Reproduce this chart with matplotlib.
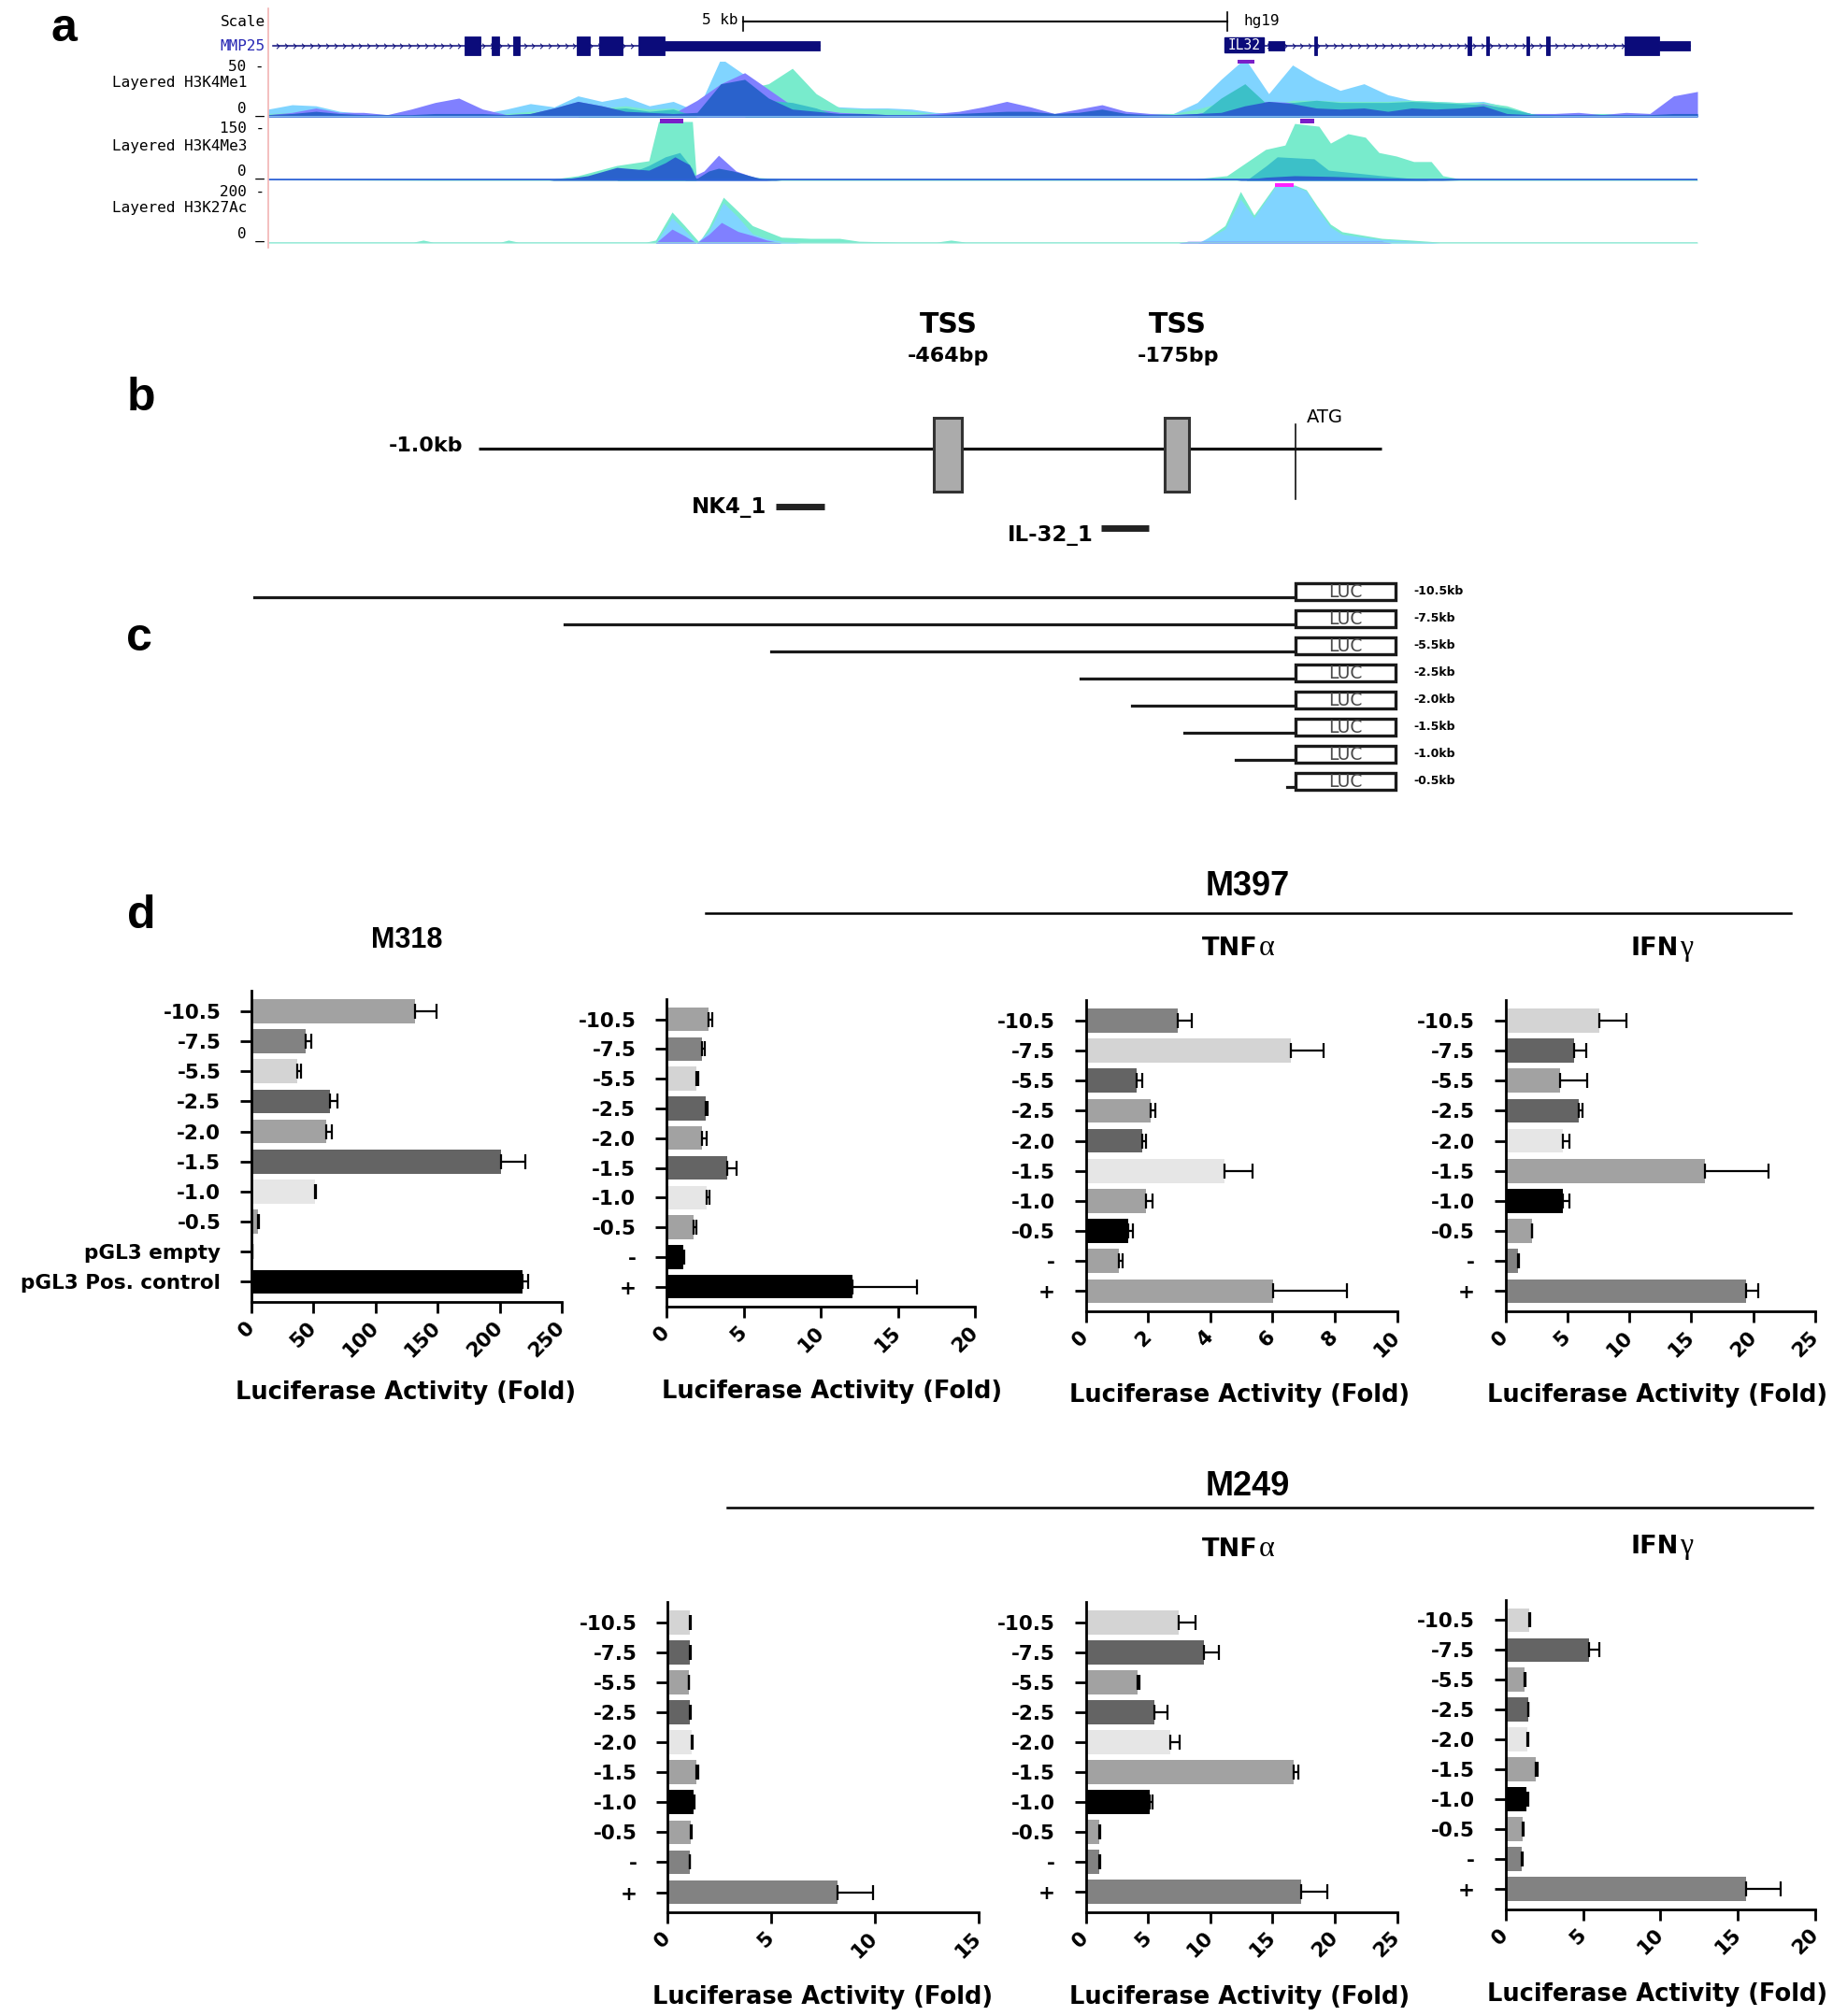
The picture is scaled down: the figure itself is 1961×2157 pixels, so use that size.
import numpy as np
import matplotlib
matplotlib.use('Agg')
import matplotlib.pyplot as plt
from matplotlib.patches import Rectangle
from matplotlib.lines import Line2D
from matplotlib.path import Path
from matplotlib import transforms

plt.rcParams['font.family'] = 'DejaVu Sans'

W, H = 1961, 2157
fig = plt.figure(figsize=(W / 100, H / 100), dpi=100)

# ---------------- panel a data (UCSC browser view, positions in kb) ----------------
REGION_KB = 14.76
grid61 = np.linspace(0, REGION_KB, 61)

# H3K4Me1 layers on the 61-point grid
t1_lightblue = [7, 11, 10, 5, 3, 2, 3, 3, 3, 3, 7, 12, 9, 19, 14, 18, 10, 14, 5, 53,
                38, 25, 17, 11, 9, 8, 8, 7, 4, 3, 4, 4, 4, 3, 3, 3, 3, 3, 3, 13,
                34, 53, 21, 47, 34, 24, 30, 20, 15, 14, 13, 14, 9, 2, 2, 2, 2, 2, 2, 2, 2]
t1_aqua = [3, 4, 4, 3, 2, 2, 2, 2, 2, 2, 3, 5, 5, 7, 8, 10, 7, 8, 3, 17,
           25, 30, 44, 21, 8, 7, 7, 5, 3, 3, 3, 3, 3, 3, 3, 3, 3, 3, 3, 7,
           13, 21, 10, 15, 15, 14, 14, 14, 15, 14, 13, 13, 10, 3, 3, 3, 3, 3, 3, 3, 3]
t1_purple = [2, 4, 8, 4, 4, 2, 7, 13, 17, 7, 2, 3, 8, 14, 10, 5, 4, 3, 15, 30,
             40, 25, 10, 7, 4, 3, 2, 2, 3, 5, 9, 14, 9, 3, 7, 11, 5, 3, 2, 3,
             7, 13, 14, 13, 10, 8, 10, 7, 13, 10, 10, 12, 7, 3, 3, 4, 2, 4, 3, 19, 23]
t1_teal = [0, 0, 0, 0, 0, 0, 0, 0, 0, 0, 0, 0, 0, 0, 7, 8, 5, 7, 0, 0,
           0, 15, 13, 8, 0, 0, 0, 0, 0, 0, 0, 0, 0, 0, 0, 0, 0, 0, 0, 0,
           17, 30, 10, 13, 15, 13, 13, 13, 14, 13, 12, 11, 8, 3, 0, 0, 0, 0, 0, 0, 0]
t1_dark = [2, 3, 5, 3, 2, 2, 2, 3, 3, 3, 2, 3, 8, 14, 10, 5, 4, 3, 4, 30,
           34, 17, 7, 5, 3, 3, 2, 2, 2, 3, 4, 5, 5, 3, 4, 7, 3, 2, 2, 3,
           4, 10, 14, 12, 8, 7, 8, 5, 8, 7, 8, 10, 3, 2, 2, 2, 2, 2, 2, 3, 3]

# H3K4Me3 layers
t2_aqua_x = [0, 2.90, 3.20, 3.60, 3.93, 4.03, 4.38, 4.42, 4.60, 4.75, 5.00, 5.30, 5.60, 9.50, 9.90,
             10.30, 10.50, 10.60, 10.85, 10.97, 11.15, 11.33, 11.47, 11.65, 11.83, 12.01, 12.13, 12.30, 14.76]
t2_aqua_y = [0, 2, 12, 38, 50, 150, 150, 10, 8, 14, 8, 4, 2, 2, 12,
             79, 90, 145, 138, 95, 119, 110, 71, 62, 48, 48, 12, 4, 2]
t2_purple_x = [4.30, 4.50, 4.65, 4.83, 4.97, 5.10, 5.20]
t2_purple_y = [0, 24, 64, 24, 12, 2, 0]
t2_teal_x = [3.60, 3.75, 3.93, 4.10, 4.25, 4.38, 4.42, 10.10, 10.31, 10.42, 10.80, 10.95, 11.50, 11.80, 12.00]
t2_teal_y = [0, 20, 38, 60, 71, 30, 0, 0, 38, 60, 55, 26, 12, 5, 0]
t2_dark_x = [2.90, 3.10, 3.30, 3.60, 3.93, 4.10, 4.20, 4.35, 4.42, 4.55, 4.65, 4.80, 4.97, 5.10, 5.30,
             10.00, 10.30, 10.60, 11.00, 11.50, 12.00, 12.30]
t2_dark_y = [0, 5, 12, 33, 26, 45, 60, 40, 4, 24, 31, 24, 12, 4, 0, 0, 8, 12, 10, 6, 2, 0]

# H3K27Ac layers
t3_aqua_x = [0, 1.50, 1.60, 1.70, 2.40, 2.48, 2.58, 3.90, 4.00, 4.17, 4.30, 4.45, 4.55, 4.70, 4.85,
             5.00, 5.15, 5.30, 5.60, 5.90, 6.10, 6.50, 6.90, 7.05, 7.20, 9.50, 9.65, 9.88, 10.04, 10.18,
             10.40, 10.60, 10.72, 10.83, 10.97, 11.09, 11.50, 11.80, 12.10, 14.76]
t3_aqua_y = [3, 3, 10, 3, 3, 10, 3, 3, 10, 107, 60, 3, 55, 158, 110,
             60, 40, 20, 16, 16, 6, 3, 3, 10, 3, 3, 5, 60, 178, 97,
             200, 200, 184, 129, 65, 39, 16, 10, 3, 3]
t3_lightblue_x = [4.00, 4.17, 4.30, 4.42, 4.55, 4.70, 4.85, 5.00, 5.15, 5.30, 5.50, 9.60, 9.88, 10.04,
                  10.18, 10.40, 10.60, 10.72, 10.83, 10.97, 11.09, 11.50, 11.80, 12.10]
t3_lightblue_y = [0, 87, 45, 0, 40, 139, 90, 32, 15, 6, 0, 0, 48, 152,
                  87, 194, 196, 180, 120, 55, 30, 12, 6, 0]
t3_purple_x = [4.00, 4.17, 4.30, 4.42, 4.55, 4.68, 4.85, 5.00, 5.15, 5.30, 9.40, 9.50, 11.50, 11.60]
t3_purple_y = [0, 48, 25, 0, 30, 71, 40, 26, 10, 0, 0, 6, 6, 0]

# peak calls: (track, start kb, end kb)
peak_calls = [(1, 4.04, 4.29), (0, 10.01, 10.18), (1, 10.66, 10.80), (2, 10.40, 10.59)]
peak_colors = ['#7A1FC8', '#7A1FC8', '#7A1FC8', '#FF22FF']

# genes
mmp25_span = (0.05, 5.70)
mmp25_exons = [(2.03, 2.19), (2.31, 2.38), (2.53, 2.60), (3.19, 3.32), (3.42, 3.66), (3.82, 4.09)]
mmp25_utrs = [(4.09, 5.70)]
il32_label = (9.88, 10.28)
il32_span = (10.28, 14.68)
il32_exons = [(10.80, 10.83), (12.39, 12.42), (12.58, 12.61), (12.99, 13.02), (13.20, 13.23), (14.01, 14.36)]
il32_utrs = [(10.33, 10.49), (14.36, 14.68)]
scale_bar = (4.90, 9.90)

# ---------------- panel b / c data ----------------
promoter_bp = (-1000, 82)
tss_bp = [-464, -175]
primers = [('NK4_1', -661, -606), ('IL-32_1', -272, -212)]
# the schematic is not drawn to scale: anchor points (bp -> drawing units)
schem_bp = [-2000, -1000, -464, -175, 0, 82, 1000]
schem_u = [-425, 512, 1014, 1259, 1385, 1476, 2490]

construct_kb = [10.5, 7.5, 5.5, 2.5, 2.0, 1.5, 1.0, 0.5]

# ---------------- panel d data ----------------
G_VL, G_L, G_M, G_DM, G_D, K = '#E6E6E6', '#D4D4D4', '#A2A2A2', '#828282', '#646464', '#000000'

m318_labels = ['-10.5', '-7.5', '-5.5', '-2.5', '-2.0', '-1.5', '-1.0', '-0.5', 'pGL3 empty', 'pGL3 Pos. control']
std_labels = ['-10.5', '-7.5', '-5.5', '-2.5', '-2.0', '-1.5', '-1.0', '-0.5', '-', '+']

m318_vals = [132, 44, 37, 63, 60, 201, 51, 5.5, 1.0, 218]
m318_err = [17, 4, 3, 6, 5, 20, 1, 0.5, 0, 5]
m318_colors = [G_M, G_DM, G_L, G_D, G_M, G_D, G_VL, G_M, K, K]

m397_ctrl_vals = [2.71, 2.28, 1.96, 2.55, 2.30, 3.96, 2.59, 1.76, 1.07, 12.04]
m397_ctrl_err = [0.28, 0.2, 0.1, 0.1, 0.3, 0.6, 0.17, 0.18, 0.1, 4.2]
m397_ctrl_colors = [G_M, G_DM, G_L, G_D, G_M, G_D, G_VL, G_M, K, K]

m397_tnf_vals = [2.96, 6.59, 1.62, 2.09, 1.80, 4.47, 1.93, 1.36, 1.05, 6.02]
m397_tnf_err = [0.44, 1.05, 0.18, 0.14, 0.14, 0.9, 0.2, 0.14, 0.13, 2.36]
m397_tnf_colors = [G_DM, G_L, G_D, G_M, G_D, G_VL, G_M, K, G_M, G_M]

m397_ifn_vals = [7.58, 5.57, 4.43, 5.92, 4.6, 16.1, 4.6, 2.1, 1.01, 19.43]
m397_ifn_err = [2.16, 0.92, 2.15, 0.26, 0.58, 5.17, 0.58, 0.05, 0.05, 0.96]
m397_ifn_colors = [G_L, G_D, G_M, G_D, G_VL, G_M, K, G_M, G_DM, G_DM]

m249_ctrl_vals = [1.08, 1.08, 1.01, 1.08, 1.16, 1.39, 1.24, 1.11, 1.05, 8.2]
m249_ctrl_err = [0.04, 0.03, 0.03, 0.03, 0.03, 0.07, 0.05, 0.03, 0.03, 1.73]

m249_tnf_vals = [7.45, 9.5, 4.18, 5.5, 6.8, 16.7, 5.14, 1.09, 1.09, 17.28]
m249_tnf_err = [1.4, 1.18, 0.1, 1.04, 0.74, 0.35, 0.22, 0.05, 0.05, 2.13]

m249_ifn_vals = [1.51, 5.37, 1.23, 1.44, 1.4, 1.93, 1.34, 1.13, 1.05, 15.55]
m249_ifn_err = [0.07, 0.7, 0.07, 0.05, 0.07, 0.17, 0.1, 0.05, 0.05, 2.24]
m249_colors = [G_L, G_D, G_M, G_D, G_VL, G_M, K, G_M, G_DM, G_DM]


# ---------------- helpers (pixel layout, y down) ----------------
def px_axes(x0, y0, x1, y1):
    return fig.add_axes([x0 / W, 1 - y1 / H, (x1 - x0) / W, (y1 - y0) / H])


def ftext(x, y, s, **kw):
    return fig.text(x / W, 1 - y / H, s, **kw)


def fline(x0, y0, x1, y1, **kw):
    fig.add_artist(Line2D([x0 / W, x1 / W], [1 - y0 / H, 1 - y1 / H], transform=fig.transFigure, **kw))


MONO = 'DejaVu Sans Mono'
NAVY = '#0B0B7A'
LB, AQ, PU, TE, DB = '#80D4FF', '#78EBCC', '#8080FF', '#3CC0C8', '#2A62CC'

# ---------------- panel a ----------------
TX0, TX1 = 287, 1816
fline(287, 9, 287, 265, color='#F2B4B4', lw=1.2)

ax_g = px_axes(TX0, 0, TX1, 62)
ax_g.set_xlim(0, REGION_KB)
ax_g.set_ylim(62, 0)
ax_g.axis('off')
ax_g.plot(scale_bar, [23, 23], color='black', lw=1.5)
ax_g.plot([scale_bar[0]] * 2, [18, 33], color='black', lw=1.2)
ax_g.plot([scale_bar[1]] * 2, [13, 33], color='black', lw=1.2)
ax_g.text(scale_bar[0] - 0.05, 22, '5 kb', ha='right', va='center', family=MONO, fontsize=11.5)
ax_g.text(scale_bar[1] + 0.17, 22, 'hg19', ha='left', va='center', family=MONO, fontsize=11.5)

chev = Path([(-0.5, 1), (0.5, 0), (-0.5, -1)], [Path.MOVETO, Path.LINETO, Path.LINETO])


def draw_gene(span, exons, utrs):
    ax_g.plot(span, [49, 49], color=NAVY, lw=1.1)
    cx = np.arange(span[0] + 0.05, span[1], 0.085)
    ax_g.plot(cx, np.full(len(cx), 49), ls='none', marker=chev, ms=4, mec=NAVY, mfc='none', mew=0.7)
    for s, e in exons:
        ax_g.add_patch(Rectangle((s, 39), e - s, 20, fc=NAVY, ec=NAVY, lw=0.6, zorder=3))
    for s, e in utrs:
        ax_g.add_patch(Rectangle((s, 44), e - s, 10, fc=NAVY, ec=NAVY, lw=0.6, zorder=3))


draw_gene(mmp25_span, mmp25_exons, mmp25_utrs)
draw_gene(il32_span, il32_exons, il32_utrs)
ax_g.add_patch(Rectangle((il32_label[0], 40), il32_label[1] - il32_label[0], 16, fc=NAVY, ec=NAVY, zorder=3))
ax_g.text(sum(il32_label) / 2, 48.5, 'IL32', color='white', ha='center', va='center', family=MONO,
          fontsize=10.5, zorder=4)


def track(y0, y1, ymax):
    ax = px_axes(TX0, y0, TX1, y1)
    ax.set_xlim(0, REGION_KB)
    ax.set_ylim(0, ymax)
    ax.axis('off')
    return ax


ax_t1 = track(66, 125, 50)
for vals, col in [(t1_lightblue, LB), (t1_aqua, AQ), (t1_purple, PU), (t1_teal, TE), (t1_dark, DB)]:
    ax_t1.fill_between(grid61, 0, vals, color=col, lw=0)
ax_t1.axhline(0, color='#7FB8F0', lw=1.5)

ax_t2 = track(130, 193, 150)
for xs, ys, col in [(t2_aqua_x, t2_aqua_y, AQ), (t2_purple_x, t2_purple_y, PU),
                    (t2_teal_x, t2_teal_y, TE), (t2_dark_x, t2_dark_y, DB)]:
    ax_t2.fill_between(xs, 0, ys, color=col, lw=0)
ax_t2.axhline(0, color='#2E63D6', lw=2.6)

ax_t3 = track(198, 260, 200)
for xs, ys, col in [(t3_aqua_x, t3_aqua_y, AQ), (t3_lightblue_x, t3_lightblue_y, LB),
                    (t3_purple_x, t3_purple_y, PU)]:
    ax_t3.fill_between(xs, 0, ys, color=col, lw=0)
ax_t3.axhline(0, color='#8FE5D5', lw=1.8)

tracks = [ax_t1, ax_t2, ax_t3]
for (ti, s, e), col in zip(peak_calls, peak_colors):
    ax = tracks[ti]
    tr = transforms.blended_transform_factory(ax.transData, ax.transAxes)
    ax.add_patch(Rectangle((s, 0.97), e - s, 0.07, transform=tr, fc=col, ec='none', clip_on=False, zorder=5))

ftext(284, 24, 'Scale', ha='right', va='center', family=MONO, fontsize=11.5)
ftext(284, 49, 'MMP25', ha='right', va='center', family=MONO, fontsize=11.5, color='#2828B4')
for ymax_lbl, name, ytop, ymid, ybot in [('50', 'Layered H3K4Me1', 71, 88, 117),
                                         ('150', 'Layered H3K4Me3', 137, 156, 184),
                                         ('200', 'Layered H3K27Ac', 205, 222, 251)]:
    ftext(283, ytop, ymax_lbl + ' -', ha='right', va='center', family=MONO, fontsize=11.5)
    ftext(264, ymid, name, ha='right', va='center', family=MONO, fontsize=11.5)
    ftext(283, ybot, '0 _', ha='right', va='center', family=MONO, fontsize=11.5)

# ---------------- panel b ----------------
ax_b = px_axes(400, 320, 1600, 600)
ax_b.set_xscale('function', functions=(lambda b: np.interp(b, schem_bp, schem_u),
                                       lambda u: np.interp(u, schem_u, schem_bp)))
ax_b.set_xlim(-1119.5, 192.7)
ax_b.set_ylim(600, 320)
ax_b.axis('off')
ax_b.plot(promoter_bp, [480, 480], color='#111111', lw=2.3, solid_capstyle='butt')
for tss in tss_bp:
    ax_b.add_patch(Rectangle((tss - 16.5, 447), 33, 79, fc='#ABABAB', ec='#333333', lw=2.2, zorder=3))
    ax_b.text(tss, 347, 'TSS', ha='center', va='center', fontsize=21.5, fontweight='bold')
    ax_b.text(tss, 381, f'{tss}bp', ha='center', va='center', fontsize=16, fontweight='bold')
ax_b.plot([0, 0], [454, 534], color='#111111', lw=1.2)
ax_b.text(10, 447, 'ATG', ha='left', va='center', fontsize=14)
ax_b.text(promoter_bp[0] - 18, 477, '-1.0kb', ha='right', va='center', fontsize=16, fontweight='bold')
for (name, s, e), yb, yl in zip(primers, [542, 565], [542, 572]):
    ax_b.plot([s, e], [yb, yb], color='#222222', lw=5, solid_capstyle='butt')
    ax_b.text(s - 10, yl, name, ha='right', va='center', fontsize=16.5, fontweight='bold')

# ---------------- panel c ----------------
ax_c = px_axes(200, 610, 1600, 850)
ax_c.set_xlim(-11.153, 1.517)
ax_c.set_ylim(7.483, -0.793)
ax_c.axis('off')
for i, L in enumerate(construct_kb):
    ax_c.plot([-L, 0], [i + 0.2, i + 0.2], color='#1A1A1A', lw=2.3)
    ax_c.add_patch(Rectangle((-0.42, i - 0.31), 0.97, 0.62, fc='white', ec='#1A1A1A', lw=2.4, zorder=3))
    ax_c.text(0.065, i + 0.03, 'LUC', ha='center', va='center', fontsize=13.5, color='#4A4A4A', zorder=4)
    ax_c.text(0.72, i, f'-{L}kb', ha='left', va='center', fontsize=9, fontweight='bold')

# ---------------- panel d ----------------
def bar_chart(box, labels, vals, errs, colors, ticks, label_xy):
    x0, y0, x1, y1 = box
    ax = px_axes(x0, y0, x1, y1)
    rows = np.arange(len(vals))
    ax.barh(rows, vals, height=0.8, color=colors, zorder=2)
    ax.errorbar(vals, rows, xerr=[np.zeros(len(errs)), errs], fmt='none', ecolor='black',
                elinewidth=1.6, capsize=5.5, capthick=1.6, zorder=3)
    ax.set_ylim(len(vals) - 1 + 0.67, -0.68)
    ax.set_xlim(ticks[0], ticks[-1])
    ax.set_yticks(rows, labels, fontsize=15.5, fontweight='bold')
    ax.set_xticks(ticks, [str(t) for t in ticks], fontsize=15.5, fontweight='bold',
                  rotation=45, ha='right', va='center', rotation_mode='anchor')
    for s in ('top', 'right'):
        ax.spines[s].set_visible(False)
    for s in ('left', 'bottom'):
        ax.spines[s].set_linewidth(2)
    ax.tick_params(axis='both', width=2, length=8.5)
    ax.tick_params(axis='y', pad=15)
    ax.tick_params(axis='x', pad=9)
    ax.set_xlabel('Luciferase Activity (Fold)', fontsize=18.5, fontweight='bold', va='center')
    lx, ly = label_xy
    ax.xaxis.set_label_coords((lx - x0) / (x1 - x0), -(ly - y1) / (y1 - y0))
    return ax


bar_chart((269, 1060, 601, 1393), m318_labels, m318_vals, m318_err, m318_colors,
          [0, 50, 100, 150, 200, 250], (434, 1490))
bar_chart((713, 1069, 1043, 1398), std_labels, m397_ctrl_vals, m397_ctrl_err, m397_ctrl_colors,
          [0, 5, 10, 15, 20], (890, 1489))
bar_chart((1161.6, 1070, 1494.5, 1403), std_labels, m397_tnf_vals, m397_tnf_err, m397_tnf_colors,
          [0, 2, 4, 6, 8, 10], (1326, 1493))
bar_chart((1610.7, 1070, 1941.9, 1403), std_labels, m397_ifn_vals, m397_ifn_err, m397_ifn_colors,
          [0, 5, 10, 15, 20, 25], (1773, 1493))
bar_chart((714.3, 1714, 1046.7, 2046), std_labels, m249_ctrl_vals, m249_ctrl_err, m249_colors,
          [0, 5, 10, 15], (880, 2137))
bar_chart((1161.6, 1714, 1494.5, 2045.5), std_labels, m249_tnf_vals, m249_tnf_err, m249_colors,
          [0, 5, 10, 15, 20, 25], (1326, 2137))
bar_chart((1610.7, 1711.6, 1941.9, 2042.5), std_labels, m249_ifn_vals, m249_ifn_err, m249_colors,
          [0, 5, 10, 15, 20], (1773, 2134))

# titles and group lines
ftext(435, 1006, 'M318', ha='center', va='center', fontsize=22, fontweight='bold', family='Liberation Sans')
ftext(1335, 949, 'M397', ha='center', va='center', fontsize=26, fontweight='bold', family='Liberation Sans')
ftext(1335, 1590, 'M249', ha='center', va='center', fontsize=26, fontweight='bold', family='Liberation Sans')
fline(755, 977, 1916, 977, color='black', lw=1.8)
fline(778, 1613, 1939, 1613, color='black', lw=1.8)


def cyto_title(x_right, y_base, name, greek):
    ftext(x_right, y_base, name, ha='right', va='baseline', fontsize=19.5, fontweight='bold')
    ftext(x_right + 1, y_base, greek, ha='left', va='baseline', fontsize=23, family='Liberation Serif')


cyto_title(1346, 1022, 'TNF', 'α')
cyto_title(1796, 1022, 'IFN', 'γ')
cyto_title(1346, 1665, 'TNF', 'α')
cyto_title(1796, 1662, 'IFN', 'γ')

# panel letters
for letter, x, y in [('a', 68, 31), ('b', 151, 426), ('c', 149, 683), ('d', 151, 980)]:
    ftext(x, y, letter, ha='center', va='center', fontsize=36, fontweight='bold', family='Liberation Sans')

fig.savefig('out.png', dpi=100)
